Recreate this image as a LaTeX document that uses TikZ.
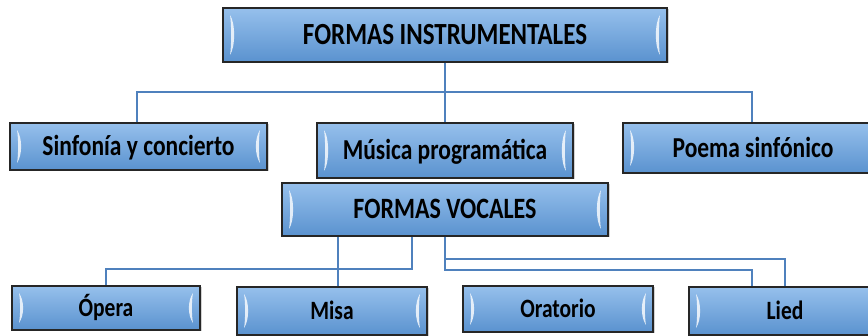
\documentclass[tikz,border=0pt]{standalone}
\usepackage{fontspec}
\setmainfont{Carlito}
\usetikzlibrary{shadows,calc}
\definecolor{boxtop}{RGB}{150,192,236}
\definecolor{boxmid}{RGB}{96,153,213}
\definecolor{boxbot}{RGB}{90,146,207}
\definecolor{linkc}{RGB}{79,129,189}
\tikzset{
  smbox/.style={draw=black!85, line width=1.2pt, inner sep=0pt,
    top color=boxtop, middle color=boxmid, bottom color=boxbot,
    drop shadow={shadow xshift=1.5pt, shadow yshift=-1.5pt, opacity=0.35},
    path picture={
      \fill[white,opacity=.8]
        ($(path picture bounding box.north west)+(7pt,-7pt)$)
        .. controls +(5.5pt,-8pt) and +(5.5pt,8pt) ..
        ($(path picture bounding box.south west)+(7pt,7pt)$)
        .. controls +(1.5pt,8pt) and +(1.5pt,-8pt) ..
        ($(path picture bounding box.north west)+(7pt,-7pt)$);
      \fill[white,opacity=.8]
        ($(path picture bounding box.north east)+(-7pt,-7pt)$)
        .. controls +(-5.5pt,-8pt) and +(-5.5pt,8pt) ..
        ($(path picture bounding box.south east)+(-7pt,7pt)$)
        .. controls +(-1.5pt,8pt) and +(-1.5pt,-8pt) ..
        ($(path picture bounding box.north east)+(-7pt,-7pt)$);
    }},
  headA/.style={smbox, font=\fontsize{25}{30}\selectfont\bfseries, text height=19.8pt, text depth=0pt},
  headB/.style={smbox, font=\fontsize{24}{29}\selectfont\bfseries, text height=19pt, text depth=0pt},
  rowtwo/.style={smbox, font=\fontsize{23.5}{28}\selectfont\bfseries, text height=18.6pt, text depth=0pt},
  rowthree/.style={smbox, font=\fontsize{21.5}{26}\selectfont\bfseries, text height=17pt, text depth=0pt},
  conn/.style={draw=linkc, line width=1.8pt}
}
\newcommand{\tall}[1]{\scalebox{1}[1.23]{#1}}
\begin{document}
\begin{tikzpicture}[x=1pt,y=-1pt]
\useasboundingbox (0,0) rectangle (868,336);
\fill[white] (0,0) rectangle (868,336);
\node[headA, minimum width=444pt, minimum height=54pt] (top) at (445,35) {\tall{FORMAS INSTRUMENTALES}};
\node[rowtwo, minimum width=257pt, minimum height=47pt] (sinf) at (138.5,146.5) {\tall{Sinfonía y concierto}};
\node[rowtwo, minimum width=256pt, minimum height=55pt] (musica) at (445,150.5) {\tall{Música programática}};
\node[rowtwo, minimum width=260pt, minimum height=50pt] (poema) at (753,148) {\tall{Poema sinfónico}};
\node[headB, minimum width=326pt, minimum height=53pt] (vocales) at (445,209.5) {\tall{FORMAS VOCALES}};
\node[rowthree, minimum width=188pt, minimum height=44pt] (opera) at (106,308) {\tall{Ópera}};
\node[rowthree, minimum width=190pt, minimum height=48pt] (misa) at (332,311) {\tall{Misa}};
\node[rowthree, minimum width=190pt, minimum height=46pt] (oratorio) at (558,309) {\tall{Oratorio}};
\node[rowthree, minimum width=192pt, minimum height=48pt] (lied) at (785,311) {\tall{Lied}};
\coordinate (b1) at (445,92);
\coordinate (b2) at (412,269);
\coordinate (b3) at (445,259);
\coordinate (b4) at (445,270);
\draw[conn] (top.south) -- (musica.north);
\draw[conn] ([xshift=-1.5pt]sinf.north) |- (b1) -| ([xshift=-1pt]poema.north);
\draw[conn] (vocales.south -| b2) -- (b2) -| (opera.north);
\draw[conn] ([xshift=6pt]misa.north) -- ([xshift=6pt]misa.north |- vocales.south);
\draw[conn] (vocales.south) -- (b4) -| ([xshift=-33pt]lied.north);
\draw[conn] (b3) -| (lied.north);
\end{tikzpicture}
\end{document}
